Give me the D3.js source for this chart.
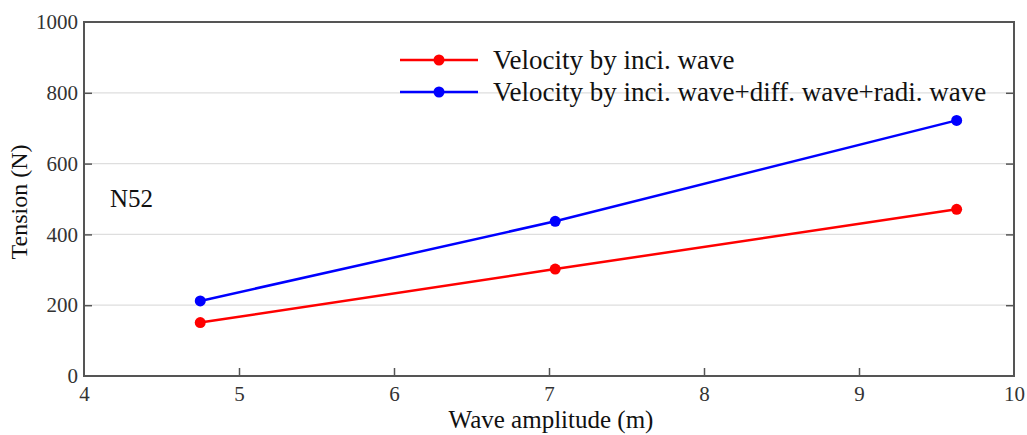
<!DOCTYPE html>
<html>
<head>
<meta charset="utf-8">
<script src="https://cdn.jsdelivr.net/npm/d3@7"></script>
<style>
  body { margin: 0; background: #fff; }
  svg { font-family: "Liberation Serif", "Times New Roman", serif; }
</style>
</head>
<body>
<div id="chart"></div>
<script>
var amplitude = [4.75, 7.04, 9.63];
var inciWave = [151, 302, 471];
var fullWave = [212, 437, 722];
var seriesNames = ["Velocity by inci. wave", "Velocity by inci. wave+diff. wave+radi. wave"];
var seriesColors = ["#ff0000", "#0000ff"];
var xTicks = [4, 5, 6, 7, 8, 9, 10];
var yTicks = [0, 200, 400, 600, 800, 1000];

var W = 1027, H = 435,
    margin = {top: 22, right: 13, bottom: 59, left: 84},
    width = W - margin.left - margin.right,
    height = H - margin.top - margin.bottom;

var svg = d3.select("#chart").append("svg")
    .attr("width", W)
    .attr("height", H)
  .append("g")
    .attr("transform", "translate(" + margin.left + "," + margin.top + ")");

var x = d3.scaleLinear().domain([4, 10]).range([0, width]);
var y = d3.scaleLinear().domain([0, 1000]).range([height, 0]);

// grid lines
svg.selectAll(".grid")
    .data(yTicks.slice(1, -1))
  .enter().append("line")
    .attr("x1", 0).attr("x2", width)
    .attr("y1", function(d) { return y(d); })
    .attr("y2", function(d) { return y(d); })
    .attr("stroke", "#dedede")
    .attr("stroke-width", 1.2);

var axisColor = "#555";
var fmt = d3.format("d");

// axes with inward ticks
var xAxis = svg.append("g")
    .attr("transform", "translate(0," + height + ")")
    .call(d3.axisBottom(x).tickValues(xTicks).tickSize(-8).tickPadding(10).tickFormat(fmt));
var yAxis = svg.append("g")
    .call(d3.axisLeft(y).tickValues(yTicks).tickSize(-8).tickPadding(6).tickFormat(fmt));
var yAxisR = svg.append("g")
    .attr("transform", "translate(" + width + ",0)")
    .call(d3.axisRight(y).tickValues(yTicks).tickSize(-8).tickFormat(""));

[xAxis, yAxis, yAxisR].forEach(function(a) {
  a.attr("font-family", "'Liberation Serif', 'Times New Roman', serif")
   .attr("font-size", 21);
  a.select(".domain").remove();
  a.selectAll(".tick line").attr("stroke", axisColor).attr("stroke-width", 1.5);
  a.selectAll(".tick text").attr("fill", "#333");
});
xAxis.selectAll(".tick").filter(function(d) { return d === 4 || d === 10; }).select("line").remove();
yAxis.selectAll(".tick").filter(function(d) { return d === 0 || d === 1000; }).select("line").remove();
yAxisR.selectAll(".tick").filter(function(d) { return d === 0 || d === 1000; }).select("line").remove();

// box
svg.append("rect")
    .attr("width", width).attr("height", height)
    .attr("fill", "none")
    .attr("stroke", axisColor)
    .attr("stroke-width", 2);

// series
var series = [inciWave, fullWave];
var line = d3.line()
    .x(function(d, i) { return x(amplitude[i]); })
    .y(function(d) { return y(d); });

series.forEach(function(s, k) {
  svg.append("path")
      .datum(s)
      .attr("d", line)
      .attr("fill", "none")
      .attr("stroke", seriesColors[k])
      .attr("stroke-width", 2.5);
  svg.selectAll(".pt" + k)
      .data(s)
    .enter().append("circle")
      .attr("cx", function(d, i) { return x(amplitude[i]); })
      .attr("cy", function(d) { return y(d); })
      .attr("r", 5.5)
      .attr("fill", seriesColors[k]);
});

// legend
var legend = svg.append("g")
    .attr("transform", "translate(316,38)");
seriesNames.forEach(function(name, k) {
  var g = legend.append("g").attr("transform", "translate(0," + (k * 32) + ")");
  g.append("line")
      .attr("x1", 0).attr("x2", 78)
      .attr("stroke", seriesColors[k])
      .attr("stroke-width", 2.5);
  g.append("circle").attr("cx", 39).attr("r", 5.5).attr("fill", seriesColors[k]);
  g.append("text")
      .attr("x", 93).attr("dy", "0.33em")
      .attr("fill", "#111")
      .style("font-size", "27px")
      .text(name);
});

// annotation
svg.append("text")
    .attr("x", 26).attr("y", 185)
    .attr("fill", "#111")
    .style("font-size", "25px")
    .text("N52");

// axis titles
svg.append("text")
    .attr("x", width / 2 + 2).attr("y", height + 52)
    .attr("text-anchor", "middle")
    .attr("fill", "#111")
    .style("font-size", "25px")
    .text("Wave amplitude (m)");
svg.append("text")
    .attr("transform", "translate(-57," + (height / 2 + 3) + ") rotate(-90)")
    .attr("text-anchor", "middle")
    .attr("fill", "#111")
    .style("font-size", "24px")
    .text("Tension (N)");
</script>
</body>
</html>
